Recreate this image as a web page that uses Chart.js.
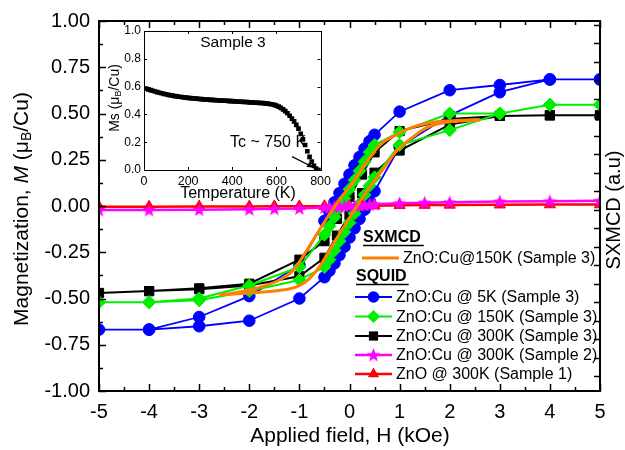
<!DOCTYPE html>
<html>
<head>
<meta charset="utf-8">
<script src="https://cdn.jsdelivr.net/npm/chart.js@4.4.0/dist/chart.umd.min.js"></script>
<style>
body{margin:0;background:#fff;}
#wrap{position:relative;width:625px;height:450px;}
#main{position:absolute;left:0;top:0;}
#inset{position:absolute;left:90px;top:20px;}
</style>
</head>
<body>
<div id="wrap">
<canvas id="main" width="625" height="450"></canvas>
<canvas id="inset" width="245" height="185"></canvas>
</div>
<script>
var FONT = "'Liberation Sans', Arial, sans-serif";

// ---- main plot data (field in kOe, M in muB/Cu) ----
// ZnO:Cu @ 5K, sweep +5 -> -5 -> +5
var h5K = [5,4,3,2,1,0.5,0.4,0.3,0.2,0.1,0,-0.1,-0.2,-0.3,-0.4,-0.5,-1,-2,-3,-4,-5,
           -4,-3,-2,-1,-0.5,-0.4,-0.3,-0.2,-0.1,0,0.1,0.2,0.3,0.4,0.5,1,2,3,4,5];
var m5K = [0.684,0.684,0.654,0.626,0.51,0.385,0.35,0.31,0.265,0.22,0.17,0.12,0.07,0.02,-0.03,-0.08,-0.32,-0.487,-0.60,-0.668,-0.668,
           -0.668,-0.65,-0.62,-0.50,-0.385,-0.35,-0.31,-0.265,-0.22,-0.17,-0.12,-0.07,-0.02,0.03,0.08,0.32,0.49,0.615,0.684,0.684];

// ZnO:Cu @ 150K
var h150K = [5,4,3,2,1,0.5,0.4,0.3,0.2,0.1,0,-0.1,-0.2,-0.3,-0.4,-0.5,-1,-2,-3,-4,-5,
             -4,-3,-2,-1,-0.5,-0.4,-0.3,-0.2,-0.1,0,0.1,0.2,0.3,0.4,0.5,1,2,3,4,5];
var m150K = [0.547,0.547,0.50,0.50,0.40,0.33,0.29,0.24,0.19,0.14,0.09,0.04,-0.01,-0.06,-0.11,-0.155,-0.33,-0.43,-0.50,-0.52,-0.52,
             -0.52,-0.51,-0.46,-0.40,-0.33,-0.29,-0.24,-0.19,-0.14,-0.09,-0.04,0.01,0.06,0.11,0.155,0.33,0.41,0.50,0.547,0.547];

// ZnO:Cu @ 300K (Sample 3)
var h300K = [5,4,3,2,1,0.5,0.25,0,-0.25,-0.5,-1,-2,-3,-4,-5,
             -4,-3,-2,-1,-0.5,-0.25,0,0.25,0.5,1,2,3,4,5];
var m300K = [0.49,0.49,0.487,0.47,0.405,0.29,0.17,0.05,-0.07,-0.19,-0.29,-0.42,-0.445,-0.46,-0.47,
             -0.46,-0.45,-0.43,-0.38,-0.28,-0.16,-0.05,0.07,0.18,0.30,0.44,0.487,0.49,0.49];

// ZnO:Cu @ 300K (Sample 2)
var hS2 = [-5,-4,-3,-2,-1.5,-1,-0.5,-0.4,-0.3,-0.2,-0.1,0,0.1,0.2,0.3,0.4,0.5,1,1.5,2,3,4,5];
var mS2 = [-0.022,-0.022,-0.02,-0.018,-0.015,-0.013,-0.008,-0.007,-0.005,-0.004,-0.002,0,0.002,0.004,0.005,0.007,0.009,0.015,0.018,0.02,0.024,0.026,0.028];

// ZnO @ 300K (Sample 1)
var hS1 = [-5,-4,-3,-2,-1.5,-1,-0.5,-0.25,0,0.25,0.5,1,1.5,2,3,4,5];
var mS1 = [-0.004,-0.004,-0.003,-0.003,-0.002,-0.002,-0.001,0,0,0.001,0.002,0.004,0.005,0.006,0.007,0.008,0.008];

// SXMCD ZnO:Cu@150K, loop up then down
var hX = [-2.6,-2,-1.5,-1,-0.66,-0.4,-0.2,0,0.15,0.4,0.7,0.95,1.3,1.6,2,2.6,
          2,1.6,1.2,0.9,0.65,0.4,0.1,-0.29,-0.6,-0.9,-1.13,-1.4,-1.8,-2.2,-2.6];
var mX = [-0.48,-0.47,-0.46,-0.43,-0.35,-0.24,-0.15,-0.065,0,0.10,0.21,0.30,0.38,0.43,0.455,0.465,
          0.46,0.45,0.42,0.38,0.34,0.26,0.14,0,-0.13,-0.26,-0.35,-0.40,-0.44,-0.465,-0.48];

var xTickVals = [-5,-4,-3,-2,-1,0,1,2,3,4,5];
var xMinorVals = [-4.5,-3.5,-2.5,-1.5,-0.5,0.5,1.5,2.5,3.5,4.5];
var yTickVals = [-1,-0.75,-0.5,-0.25,0,0.25,0.5,0.75,1];
var yMinorVals = [-0.875,-0.625,-0.375,-0.125,0.125,0.375,0.625,0.875];
var rightTickVals = [0.98,0.88,0.78,0.68,0.58,0.48,0.38,0.28,0.18,0.08,-0.02,-0.12,-0.22,-0.32,-0.42,-0.52,-0.62,-0.72,-0.82,-0.92];

// ---- inset data: Ms vs temperature ----
var tempK = [10,20,30,40,50,60,70,80,90,100,110,120,130,140,150,160,170,180,190,200,
             210,220,230,240,250,260,270,280,290,300,310,320,330,340,350,360,370,380,390,400,
             410,420,430,440,450,460,470,480,490,500,510,520,530,540,550,560,570,580,590,600,
             610,620,630,640,650,660,670,680,690,700,710,720,730,740,750,760,770,780,790,800];
var msVals = [0.585,0.58,0.575,0.57,0.565,0.56,0.556,0.552,0.548,0.545,0.541,0.538,0.535,0.532,0.53,0.527,0.525,0.523,0.521,0.519,
              0.517,0.516,0.514,0.513,0.511,0.51,0.508,0.507,0.506,0.505,0.504,0.503,0.502,0.501,0.5,0.499,0.498,0.497,0.496,0.495,
              0.494,0.493,0.492,0.491,0.49,0.489,0.488,0.487,0.486,0.485,0.484,0.483,0.482,0.481,0.479,0.477,0.475,0.472,0.468,0.463,
              0.456,0.447,0.436,0.423,0.408,0.39,0.37,0.35,0.325,0.298,0.26,0.22,0.18,0.135,0.095,0.06,0.03,0.01,0,0];
var tTickVals = [0,200,400,600,800];
var msTickVals = [0,0.2,0.4,0.6,0.8,1.0];
var tcArrow = [[671,0.096],[768,0.018]];

function pts(xs, ys) {
  return xs.map(function (x, i) { return {x: x, y: ys[i]}; });
}

function makeStar(color) {
  var c = document.createElement('canvas');
  c.width = 15; c.height = 15;
  var g = c.getContext('2d');
  g.fillStyle = color;
  g.beginPath();
  for (var i = 0; i < 10; i++) {
    var r = i % 2 ? 3.1 : 7.4;
    var a = -Math.PI / 2 + i * Math.PI / 5;
    var px = 7.5 + r * Math.cos(a), py = 8 + r * Math.sin(a);
    if (i) g.lineTo(px, py); else g.moveTo(px, py);
  }
  g.closePath();
  g.fill();
  return c;
}
var starImg = makeStar('#ff00ff');

var series = [
  {label: 'ZnO:Cu@150K (Sample 3)', h: hX, m: mX, color: '#ff8000', style: false, r: 0, w: 3, tension: 0.4},
  {label: 'ZnO:Cu @ 300K (Sample 2)', h: hS2, m: mS2, color: '#ff00ff', style: starImg, r: 7, w: 2.5},
  {label: 'ZnO @ 300K (Sample 1)', h: hS1, m: mS1, color: '#ff0000', style: 'triangle', r: 6.5, w: 2.5},
  {label: 'ZnO:Cu @ 150K (Sample 3)', h: h150K, m: m150K, color: '#00ee00', style: 'rectRot', r: 6.5, w: 2},
  {label: 'ZnO:Cu @ 300K (Sample 3)', h: h300K, m: m300K, color: '#000000', style: 'rect', r: 6.5, w: 2},
  {label: 'ZnO:Cu @ 5K (Sample 3)', h: h5K, m: m5K, color: '#0000ff', style: 'circle', r: 5.8, w: 1.8}
];

var datasets = series.map(function (s) {
  return {
    label: s.label,
    data: pts(s.h, s.m),
    borderColor: s.color,
    backgroundColor: s.color,
    borderWidth: s.w,
    pointStyle: s.style,
    pointRadius: s.r,
    pointBorderWidth: 1,
    pointBorderColor: s.color,
    pointBackgroundColor: s.color,
    tension: s.tension || 0
  };
});

function drawMarker(ctx, style, x, y, r, color) {
  ctx.save();
  ctx.fillStyle = color;
  ctx.beginPath();
  if (style === 'circle') {
    ctx.arc(x, y, r, 0, Math.PI * 2);
  } else if (style === 'rect') {
    var s = r * Math.SQRT1_2;
    ctx.rect(x - s, y - s, 2 * s, 2 * s);
  } else if (style === 'rectRot') {
    ctx.moveTo(x, y - r); ctx.lineTo(x + r, y); ctx.lineTo(x, y + r); ctx.lineTo(x - r, y);
  } else if (style === 'triangle') {
    ctx.moveTo(x, y - r); ctx.lineTo(x + r * 0.87, y + r * 0.5); ctx.lineTo(x - r * 0.87, y + r * 0.5);
  } else if (style && style.width) {
    ctx.drawImage(style, x - style.width / 2, y - style.height / 2);
  }
  ctx.closePath();
  ctx.fill();
  ctx.restore();
}

function richText(ctx, parts, cx, cy, rot) {
  ctx.save();
  ctx.translate(cx, cy);
  if (rot) ctx.rotate(rot);
  var total = 0;
  parts.forEach(function (p) { ctx.font = p.font; p.w = ctx.measureText(p.t).width; total += p.w; });
  var x = -total / 2;
  ctx.textBaseline = 'middle';
  ctx.textAlign = 'left';
  ctx.fillStyle = '#000';
  parts.forEach(function (p) { ctx.font = p.font; ctx.fillText(p.t, x, p.dy || 0); x += p.w; });
  ctx.restore();
}

var mainDecor = {
  id: 'mainDecor',
  afterDraw: function (chart) {
    var ctx = chart.ctx, a = chart.chartArea, xs = chart.scales.x, ys = chart.scales.y;
    ctx.save();
    ctx.strokeStyle = '#000';
    ctx.lineWidth = 1.5;
    ctx.beginPath();
    function vt(vals, len) {
      vals.forEach(function (v) {
        var px = Math.round(xs.getPixelForValue(v)) + 0.5;
        ctx.moveTo(px, a.bottom); ctx.lineTo(px, a.bottom - len);
        ctx.moveTo(px, a.top); ctx.lineTo(px, a.top + len);
      });
    }
    vt(xTickVals, 7); vt(xMinorVals, 4);
    yTickVals.forEach(function (v) {
      var py = Math.round(ys.getPixelForValue(v)) + 0.5;
      ctx.moveTo(a.left, py); ctx.lineTo(a.left + 7, py);
    });
    yMinorVals.forEach(function (v) {
      var py = Math.round(ys.getPixelForValue(v)) + 0.5;
      ctx.moveTo(a.left, py); ctx.lineTo(a.left + 4, py);
    });
    rightTickVals.forEach(function (v) {
      var py = Math.round(ys.getPixelForValue(v)) + 0.5;
      ctx.moveTo(a.right, py); ctx.lineTo(a.right - 6, py);
    });
    ctx.stroke();
    ctx.lineWidth = 2;
    ctx.strokeRect(a.left, a.top, a.right - a.left, a.bottom - a.top);

    // axis titles
    ctx.fillStyle = '#000';
    ctx.textAlign = 'center';
    ctx.textBaseline = 'middle';
    ctx.font = '21px ' + FONT;
    ctx.fillText('Applied field, H (kOe)', 350, 436);
    richText(ctx, [
      {t: 'Magnetization, ', font: '21px ' + FONT},
      {t: 'M', font: 'italic 21px ' + FONT},
      {t: ' (\u03bc', font: '21px ' + FONT},
      {t: 'B', font: '14px ' + FONT, dy: 5},
      {t: '/Cu)', font: '21px ' + FONT}
    ], 22, 209, -Math.PI / 2);
    richText(ctx, [{t: 'SXMCD (a.u)', font: '20px ' + FONT}], 614, 210, -Math.PI / 2);

    // legend
    ctx.textAlign = 'left';
    ctx.font = 'bold 16px ' + FONT;
    ctx.fillText('SXMCD', 363, 238);
    var w1 = ctx.measureText('SXMCD').width;
    ctx.fillText('SQUID', 356, 277);
    var w2 = ctx.measureText('SQUID').width;
    ctx.lineWidth = 1.5;
    ctx.beginPath();
    ctx.moveTo(363, 245.5); ctx.lineTo(366 + w1, 245.5);
    ctx.moveTo(356, 284.5); ctx.lineTo(358 + w2, 284.5);
    ctx.stroke();

    var rows = [
      {s: series[0], x: 362, y: 258},
      {s: series[5], x: 355, y: 297},
      {s: series[3], x: 355, y: 316.5},
      {s: series[4], x: 355, y: 336},
      {s: series[1], x: 355, y: 355},
      {s: series[2], x: 355, y: 374}
    ];
    ctx.font = '16px ' + FONT;
    rows.forEach(function (row) {
      var s = row.s;
      ctx.strokeStyle = s.color;
      ctx.lineWidth = s.w;
      ctx.beginPath();
      ctx.moveTo(row.x, row.y); ctx.lineTo(row.x + 37, row.y);
      ctx.stroke();
      if (s.style) drawMarker(ctx, s.style, row.x + 18.5, row.y, s.r, s.color);
      ctx.fillStyle = '#000';
      ctx.fillText(s.label, row.x + 41, row.y + 1);
    });
    ctx.restore();
  }
};

new Chart(document.getElementById('main'), {
  type: 'line',
  data: {datasets: datasets},
  options: {
    responsive: false,
    animation: false,
    devicePixelRatio: 1,
    layout: {padding: {top: 17, right: 25, left: 0, bottom: 0}},
    plugins: {legend: {display: false}, tooltip: {enabled: false}},
    scales: {
      x: {
        type: 'linear', min: -5, max: 5,
        afterFit: function (s) { s.height = 59; },
        afterBuildTicks: function (s) { s.ticks = xTickVals.map(function (v) { return {value: v}; }); },
        grid: {display: false, drawTicks: false},
        border: {display: false},
        ticks: {padding: 9, color: '#000', font: {family: FONT, size: 20}, maxRotation: 0,
          callback: function (v) { return String(v); }}
      },
      y: {
        type: 'linear', min: -1, max: 1,
        afterFit: function (s) { s.width = 99; },
        afterBuildTicks: function (s) { s.ticks = yTickVals.map(function (v) { return {value: v}; }); },
        grid: {display: false, drawTicks: false},
        border: {display: false},
        ticks: {padding: 9, color: '#000', font: {family: FONT, size: 20},
          callback: function (v) { return Number(v).toFixed(2); }}
      }
    }
  },
  plugins: [mainDecor]
});

var insetDecor = {
  id: 'insetDecor',
  afterDraw: function (chart) {
    var ctx = chart.ctx, a = chart.chartArea, xs = chart.scales.x, ys = chart.scales.y;
    ctx.save();
    ctx.strokeStyle = '#000';
    ctx.lineWidth = 1;
    ctx.beginPath();
    tTickVals.forEach(function (v) {
      var px = Math.round(xs.getPixelForValue(v)) + 0.5;
      ctx.moveTo(px, a.bottom); ctx.lineTo(px, a.bottom - 3);
      ctx.moveTo(px, a.top); ctx.lineTo(px, a.top + 3);
    });
    msTickVals.forEach(function (v) {
      var py = Math.round(ys.getPixelForValue(v)) + 0.5;
      ctx.moveTo(a.left, py); ctx.lineTo(a.left + 3, py);
      ctx.moveTo(a.right, py); ctx.lineTo(a.right - 3, py);
    });
    ctx.stroke();
    ctx.strokeRect(Math.round(a.left) + 0.5, Math.round(a.top) + 0.5, Math.round(a.right - a.left), Math.round(a.bottom - a.top));

    // Tc arrow
    var x0 = xs.getPixelForValue(tcArrow[0][0]), y0 = ys.getPixelForValue(tcArrow[0][1]);
    var x1 = xs.getPixelForValue(tcArrow[1][0]), y1 = ys.getPixelForValue(tcArrow[1][1]);
    var ang = Math.atan2(y1 - y0, x1 - x0);
    ctx.lineWidth = 1.2;
    ctx.beginPath();
    ctx.moveTo(x0, y0); ctx.lineTo(x1, y1);
    ctx.stroke();
    ctx.fillStyle = '#000';
    ctx.beginPath();
    ctx.moveTo(x1, y1);
    ctx.lineTo(x1 - 7 * Math.cos(ang - 0.4), y1 - 7 * Math.sin(ang - 0.4));
    ctx.lineTo(x1 - 7 * Math.cos(ang + 0.4), y1 - 7 * Math.sin(ang + 0.4));
    ctx.closePath();
    ctx.fill();

    ctx.textBaseline = 'middle';
    ctx.textAlign = 'center';
    ctx.font = '15.5px ' + FONT;
    ctx.fillText('Sample 3', 143, 23);
    ctx.font = '16px ' + FONT;
    ctx.fillText('Temperature (K)', 148, 174);
    ctx.textAlign = 'left';
    ctx.fillText('Tc ~ 750 K', 140, 123);
    richText(ctx, [
      {t: 'Ms (\u03bc', font: '14px ' + FONT},
      {t: 'B', font: '9px ' + FONT, dy: 3.5},
      {t: '/Cu)', font: '14px ' + FONT}
    ], 25, 78, -Math.PI / 2);
    ctx.restore();
  }
};

new Chart(document.getElementById('inset'), {
  type: 'scatter',
  data: {datasets: [{
    data: pts(tempK, msVals),
    pointStyle: 'rect',
    pointRadius: 3.3,
    pointBorderWidth: 0,
    backgroundColor: '#000',
    borderColor: '#000'
  }]},
  options: {
    responsive: false,
    animation: false,
    devicePixelRatio: 1,
    layout: {padding: {top: 11, right: 7, left: 0, bottom: 0}},
    plugins: {legend: {display: false}, tooltip: {enabled: false}},
    scales: {
      x: {
        type: 'linear', min: 0, max: 800,
        afterFit: function (s) { s.height = 35; },
        afterBuildTicks: function (s) { s.ticks = tTickVals.map(function (v) { return {value: v}; }); },
        grid: {display: false, drawTicks: false},
        border: {display: false},
        ticks: {padding: 4, color: '#000', font: {family: FONT, size: 12.5}, maxRotation: 0}
      },
      y: {
        type: 'linear', min: 0, max: 1,
        afterFit: function (s) { s.width = 54; },
        afterBuildTicks: function (s) { s.ticks = msTickVals.map(function (v) { return {value: v}; }); },
        grid: {display: false, drawTicks: false},
        border: {display: false},
        ticks: {padding: 3, color: '#000', font: {family: FONT, size: 12},
          callback: function (v) { return Number(v).toFixed(1); }}
      }
    }
  },
  plugins: [insetDecor]
});
</script>
</body>
</html>
